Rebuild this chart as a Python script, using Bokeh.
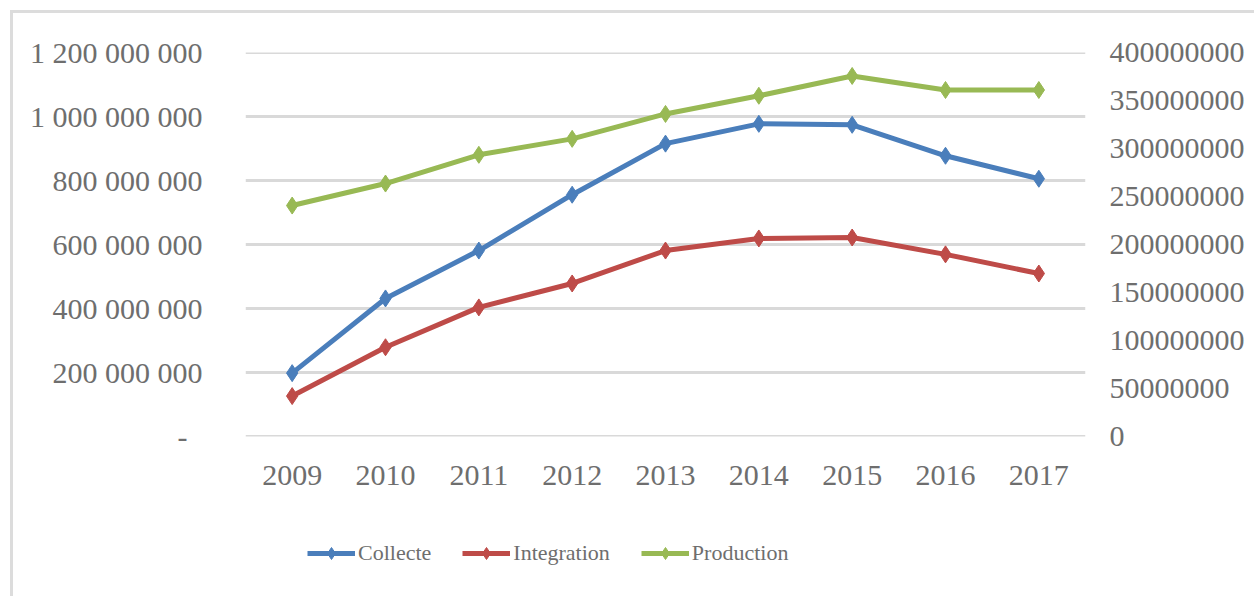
from bokeh.plotting import figure
from bokeh.layouts import column
from bokeh.models import (FactorRange, Range1d, LinearAxis, FixedTicker, Legend, LegendItem,
                          BasicTickFormatter)
from bokeh.embed import file_html
from bokeh.resources import INLINE

years = ["2009", "2010", "2011", "2012", "2013", "2014", "2015", "2016", "2017"]
collecte = [197e6, 431e6, 581e6, 756e6, 916e6, 978e6, 975e6, 878e6, 806e6]
integration = [41.7e6, 92.7e6, 134.3e6, 159.3e6, 193.7e6, 206.3e6, 207.3e6, 189.7e6, 169.7e6]  # right axis
production = [722e6, 791e6, 881e6, 931e6, 1009e6, 1066e6, 1128e6, 1084e6, 1084e6]
series_names = ["Collecte", "Integration", "Production"]

left_ticks = [0, 200e6, 400e6, 600e6, 800e6, 1000e6, 1200e6]
left_labels = ["-\u00a0\u00a0", "200 000 000", "400 000 000", "600 000 000", "800 000 000",
               "1 000 000 000", "1 200 000 000"]
right_ticks = [0, 50e6, 100e6, 150e6, 200e6, 250e6, 300e6, 350e6, 400e6]

FONT = "Liberation Serif"
TICK_COLOR = "#6e6e6e"
BLUE, RED, GREEN = "#4a7ebb", "#be4b48", "#98b954"
colors = [BLUE, RED, GREEN]

OFF = 13  # host offset (chart border drawn outside the canvas)
W, H1, H2 = 1244, 500, 86
BL, BR = 245 - OFF, W - (1085 - OFF)
eps = 1.5e6
p = figure(width=W, height=H1, x_range=FactorRange(*years, range_padding=0),
           y_range=Range1d(-eps, 1.2e9 + eps), output_backend="svg", toolbar_location=None,
           min_border_left=BL, min_border_right=BR,
           min_border_top=52 - OFF, min_border_bottom=H1 - (436 - OFF))
p.extra_y_ranges = {"right": Range1d(-eps / 3, 400e6 + eps / 3)}
p.outline_line_color = None
p.background_fill_color = "white"
p.border_fill_color = "white"

# axes
p.yaxis.ticker = FixedTicker(ticks=left_ticks)
p.yaxis.major_label_overrides = {int(t): l for t, l in zip(left_ticks, left_labels)}
for ax in [p.xaxis[0], p.yaxis[0]]:
    ax.axis_line_color = None
    ax.major_tick_line_color = None
    ax.minor_tick_line_color = None
    ax.major_tick_out = 0
    ax.major_label_text_font = FONT
    ax.major_label_text_font_size = "30px"
    ax.major_label_text_color = TICK_COLOR
p.yaxis.major_label_standoff = 43
p.xaxis.major_label_standoff = 29

rax = LinearAxis(y_range_name="right", ticker=FixedTicker(ticks=right_ticks),
                 formatter=BasicTickFormatter(use_scientific=False))
rax.axis_line_color = None
rax.major_tick_line_color = None
rax.minor_tick_line_color = None
rax.major_tick_out = 0
rax.major_label_text_font = FONT
rax.major_label_text_font_size = "30px"
rax.major_label_text_color = TICK_COLOR
rax.major_label_standoff = 24
p.add_layout(rax, "right")

p.xgrid.grid_line_color = None
p.ygrid.grid_line_color = "#d9d9d9"
p.ygrid.grid_line_width = 3

# series
lw, ms = 5, 17
p.line(years, collecte, line_color=BLUE, line_width=lw)
p.scatter(years, collecte, marker="diamond", size=ms, fill_color=BLUE, line_color=BLUE)
p.line(years, integration, line_color=RED, line_width=lw, y_range_name="right")
p.scatter(years, integration, marker="diamond", size=ms, fill_color=RED, line_color=RED,
          y_range_name="right")
p.line(years, production, line_color=GREEN, line_width=lw)
p.scatter(years, production, marker="diamond", size=ms, fill_color=GREEN, line_color=GREEN)

# legend strip (separate canvas below the chart, same frame alignment)
q = figure(width=W, height=H2, x_range=Range1d(0, 1), y_range=Range1d(0, 1),
           output_backend="svg", toolbar_location=None, x_axis_location=None,
           y_axis_location=None, min_border_left=BL, min_border_right=BR,
           min_border_top=0, min_border_bottom=0)
q.grid.visible = False
q.outline_line_color = None
q.background_fill_color = "white"
q.border_fill_color = "white"
items = []
for name, c in zip(series_names, colors):
    # sample glyphs for the legend (their single point lies outside the visible range)
    ln = q.line([-5, -4], [-5, -5], line_color=c, line_width=lw)
    mk = q.scatter([-5], [-5], marker="diamond", size=14, fill_color=c, line_color=c)
    items.append(LegendItem(label=name, renderers=[ln, mk]))
legend = Legend(items=items, location=(62, 31), orientation="horizontal", padding=5,
                margin=0, spacing=31, glyph_width=48, glyph_height=30, label_standoff=3,
                label_text_font=FONT, label_text_font_size="22px", label_text_color=TICK_COLOR,
                border_line_color=None, background_fill_alpha=0)
q.add_layout(legend, "center")

layout = column(p, q, spacing=0)
layout.styles = {"margin-left": f"{OFF}px", "margin-top": f"{OFF}px",
                 "box-shadow": "-3px -3px 0 0 #dcdcdc"}

open("out.html", "w").write(file_html(layout, INLINE))
